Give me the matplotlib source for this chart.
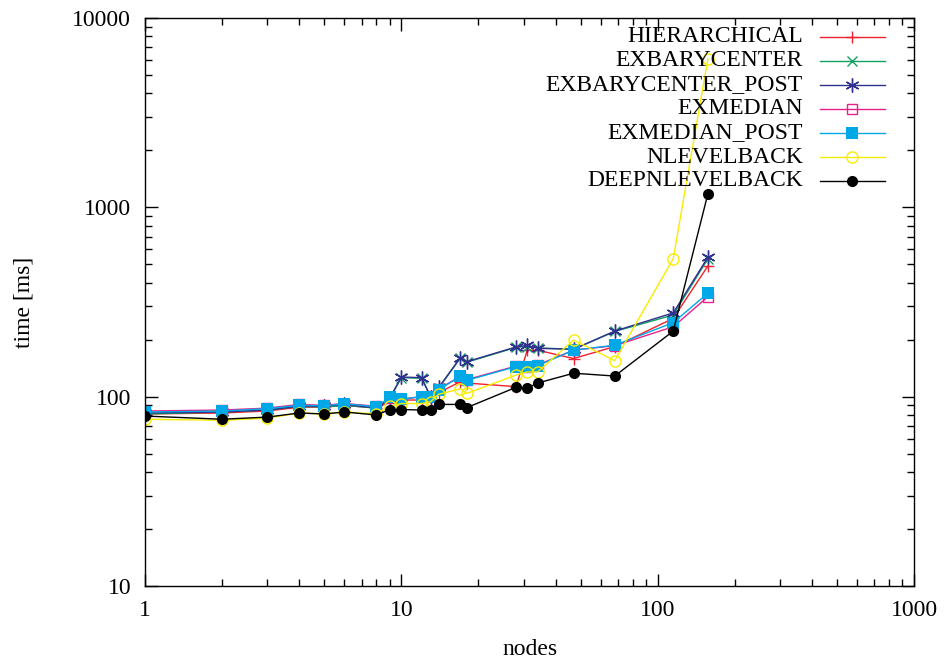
import matplotlib
matplotlib.use("Agg")
import matplotlib.pyplot as plt
from matplotlib.ticker import LogLocator, NullFormatter, FixedLocator, FixedFormatter

plt.rcParams['font.family'] = ['Liberation Serif', 'DejaVu Serif']

nodes = [1, 2, 3, 4, 5, 6, 8, 9, 10, 12, 13, 14, 17, 18, 28, 31, 34, 47, 68, 115, 157]

hierarchical = [81, 82, 84, 88, 88, 90, 87, 94, 96, 96, 97, 105, 120, 118,
                113, 176, 176, 159, 184, 259, 490]
exbarycenter = [81, 83, 85, 89, 88, 90, 87, 97, 126, 125, 100, 111, 160, 152,
                182, 184, 181, 178, 221, 270, 535]
exbarycenter_post = [82, 83, 85, 89, 89, 91, 87, 98, 127, 126, 100, 112, 161, 153,
                     183, 187, 180, 178, 222, 277, 545]
exmedian = [84, 85, 87, 91, 90, 92, 89, 98, 97, 100, 101, 110, 128, 123,
            145, 144, 147, 176, 186, 234, 337]
exmedian_post = [83, 84, 86.5, 90, 89.5, 91.7, 88.5, 99, 97, 100, 100, 109, 128, 122,
                 144, 143, 146, 176, 187, 246, 352]
nlevelback = [76, 75, 77, 82, 81, 83, 81, 89, 92, 92, 94, 103, 110, 104,
              130, 135, 135, 199, 155, 535, 6085]
deepnlevelback = [79, 76, 78, 82, 81, 83, 80, 85.5, 85.5, 85, 85, 91, 91, 87.5,
                  112, 111, 118, 133, 128.5, 222, 1178]

series = [
    ("HIERARCHICAL", hierarchical, "#f0202e", dict(marker="+", ms=9, mew=1.0, mfc="none")),
    ("EXBARYCENTER", exbarycenter, "#10a060", dict(marker="x", ms=7, mew=1.0, mfc="none")),
    ("EXBARYCENTER_POST", exbarycenter_post, "#30308f", dict(marker=(6, 2, 0), ms=10, mew=1.0, mfc="none")),
    ("EXMEDIAN", exmedian, "#e8208c", dict(marker="s", ms=7, mew=1.0, mfc="none")),
    ("EXMEDIAN_POST", exmedian_post, "#00a8e8", dict(marker="s", ms=8, mew=0, mfc="#00a8e8")),
    ("NLEVELBACK", nlevelback, "#f8ec00", dict(marker="o", ms=8, mew=1.0, mfc="none")),
    ("DEEPNLEVELBACK", deepnlevelback, "#000000", dict(marker="o", ms=8, mew=0, mfc="#000000")),
]

fig = plt.figure(figsize=(9.44, 6.64), dpi=100)
ax = fig.add_axes([145 / 944, 1 - 586 / 664, (914 - 145) / 944, (586 - 18) / 664])

for label, vals, color, mk in series:
    ax.plot(nodes, vals, color=color, lw=1.0, mec=color, **mk)

ax.set_xscale("log")
ax.set_yscale("log")
ax.set_xlim(1, 1000)
ax.set_ylim(10, 10000)

ax.xaxis.set_major_locator(FixedLocator([1, 10, 100, 1000]))
ax.xaxis.set_major_formatter(FixedFormatter(["1", "10", "100", "1000"]))
ax.yaxis.set_major_locator(FixedLocator([10, 100, 1000, 10000]))
ax.yaxis.set_major_formatter(FixedFormatter(["10", "100", "1000", "10000"]))
ax.xaxis.set_minor_locator(LogLocator(base=10, subs=range(2, 10)))
ax.yaxis.set_minor_locator(LogLocator(base=10, subs=range(2, 10)))
ax.xaxis.set_minor_formatter(NullFormatter())
ax.yaxis.set_minor_formatter(NullFormatter())

ax.tick_params(which="both", direction="in", top=True, right=True, labelsize=17, width=1.0)
ax.tick_params(which="major", length=9, pad=10)
ax.tick_params(which="minor", length=5)
for s in ax.spines.values():
    s.set_linewidth(1.0)

ax.set_xlabel("nodes", fontsize=17, labelpad=13)
ax.set_ylabel("time [ms]", fontsize=17, labelpad=27)

# key in the upper-right corner: right-aligned names, sample line with marker
x_text = (803 - 145) / 769
x_l0 = (820 - 145) / 769
x_l1 = (885 - 145) / 769
x_mk = (852 - 145) / 769
for i, (label, vals, color, mk) in enumerate(series):
    yy = 1 - (37 + 24 * i - 18) / 568
    ax.text(x_text, yy, label, transform=ax.transAxes, ha="right", va="center", fontsize=17)
    ax.plot([x_l0, x_l1], [yy, yy], transform=ax.transAxes, color=color, lw=1.0, clip_on=False)
    ax.plot([x_mk], [yy], transform=ax.transAxes, color=color, mec=color, lw=0, clip_on=False, **mk)

fig.savefig("out.png", dpi=100)
